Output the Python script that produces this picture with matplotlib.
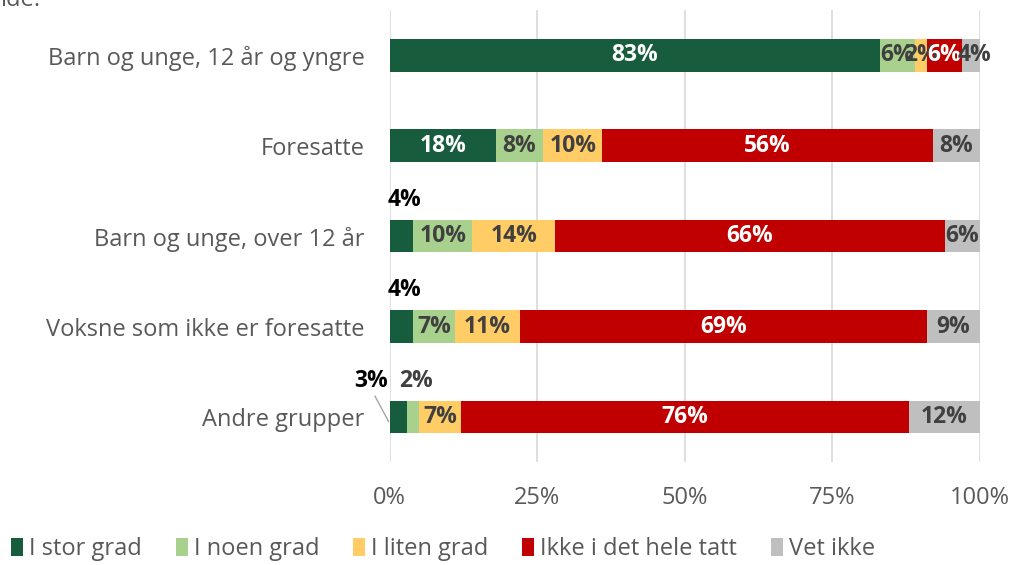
import matplotlib
matplotlib.use("Agg")
import matplotlib.pyplot as plt

plt.rcParams["font.family"] = ["Open Sans", "DejaVu Sans"]

CATEGORIES = [
    "Barn og unge, 12 år og yngre",
    "Foresatte",
    "Barn og unge, over 12 år",
    "Voksne som ikke er foresatte",
    "Andre grupper",
]
SERIES = ["I stor grad", "I noen grad", "I liten grad", "Ikke i det hele tatt", "Vet ikke"]
VALUES = [
    [83, 18, 4, 4, 3],    # I stor grad
    [6, 8, 10, 7, 2],     # I noen grad
    [2, 10, 14, 11, 7],   # I liten grad
    [6, 56, 66, 69, 76],  # Ikke i det hele tatt
    [4, 8, 6, 9, 12],     # Vet ikke
]
COLORS = ["#185c3e", "#a9d18e", "#ffcc66", "#c00000", "#bfbfbf"]
TEXT_COLORS = ["white", "#404040", "#404040", "white", "#404040"]

# labels drawn above the bar instead of inside (series index, row index)
ABOVE = {(0, 2), (0, 3), (0, 4), (1, 4)}
LBL = 16.5

fig = plt.figure(figsize=(10.15, 5.65), dpi=100)
ax = fig.add_axes([0.384, 0.182, 0.5815, 0.8])

y = list(range(len(CATEGORIES)))
left = [0] * len(CATEGORIES)
for s, name in enumerate(SERIES):
    vals = VALUES[s]
    ax.barh(y, vals, left=left, height=0.36, color=COLORS[s], label=name, zorder=3)
    for i, v in enumerate(vals):
        cx = left[i] + v / 2
        if (s, i) in ABOVE:
            continue
        ax.text(cx, i, f"{v}%", ha="center", va="center", color=TEXT_COLORS[s],
                fontsize=LBL, fontweight="bold", zorder=4)
    left = [a + b for a, b in zip(left, vals)]

# small labels above the bars
ax.text(VALUES[0][2] / 2 + 0.5, 1.6, "4%", ha="center", va="center", fontsize=LBL,
        fontweight="bold", color="black")
ax.text(VALUES[0][3] / 2 + 0.5, 2.6, "4%", ha="center", va="center", fontsize=LBL,
        fontweight="bold", color="black")
ax.text(-0.3, 3.6, "3%", ha="right", va="center", fontsize=LBL,
        fontweight="bold", color="black")
ax.text(VALUES[0][4] + VALUES[1][4] / 2 + 0.5, 3.6, "2%", ha="center", va="center",
        fontsize=LBL, fontweight="bold", color="#404040")
ax.plot([-2.5, -0.2], [3.77, 4.05], color="#a6a6a6", lw=1, clip_on=False, zorder=4)

ax.set_xlim(0, 100)
ax.set_ylim(4.5, -0.5)
ax.set_xticks([0, 25, 50, 75, 100])
ax.set_xticklabels(["0%", "25%", "50%", "75%", "100%"])
ax.set_yticks(y)
ax.set_yticklabels(CATEGORIES)
ax.tick_params(axis="both", length=0, labelsize=17, colors="#595959")
ax.tick_params(axis="y", pad=18)
ax.tick_params(axis="x", pad=17)
ax.grid(axis="x", color="#d9d9d9", lw=1.2, zorder=0)
for sp in ax.spines.values():
    sp.set_visible(False)

ax.legend(loc="lower left", bbox_to_anchor=(0.004, -0.006), bbox_transform=fig.transFigure,
          ncol=5, frameon=False, fontsize=17, labelcolor="#595959", handlelength=0.5,
          handleheight=0.75, handletextpad=0.25, columnspacing=1.45, borderaxespad=0.1,
          borderpad=0.2)

fig.text(0.0, 1.0, "ide.", ha="left", va="center", fontsize=17, color="#595959")

fig.savefig("out.png", dpi=100)
